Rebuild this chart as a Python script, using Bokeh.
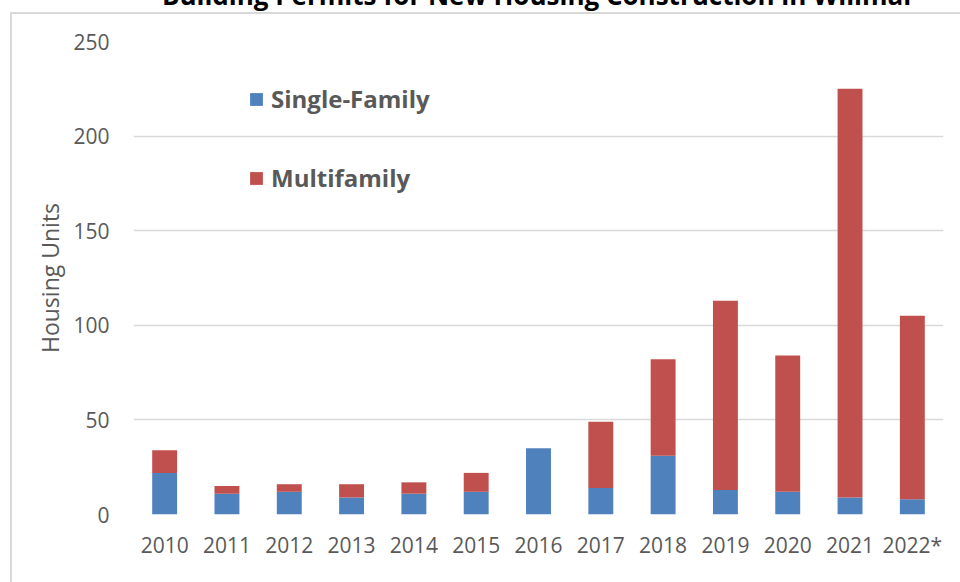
from bokeh.plotting import figure
from bokeh.models import ColumnDataSource, FactorRange, Range1d, FixedTicker
from bokeh.embed import file_html
from bokeh.resources import INLINE

try:
    from bokeh.models import GlobalInlineStyleSheet
except ImportError:  # fallback: no global sheet available
    GlobalInlineStyleSheet = None

# ---- data ----
years = ["2010", "2011", "2012", "2013", "2014", "2015", "2016",
         "2017", "2018", "2019", "2020", "2021", "2022*"]
single_family = [22, 11, 12, 9, 11, 12, 35, 14, 31, 13, 12, 9, 8]
multifamily = [12, 4, 4, 7, 6, 10, 0, 35, 51, 100, 72, 216, 97]
series_names = ["Single-Family", "Multifamily"]
y_ticks = [0, 50, 100, 150, 200, 250]
title_text = "Building Permits for New Housing Construction in Willmar"
y_label = "Housing Units"

BLUE = "#4F81BD"
RED = "#C0504D"
GREY = "#595959"
FRAME_GREY = "#d9d9d9"
FONT = "Open Sans"

source = ColumnDataSource(dict(year=years, single=single_family, multi=multifamily))

p = figure(
    width=952, height=637,
    title=title_text,
    x_range=FactorRange(*years, range_padding=0),
    y_range=Range1d(0, 250),
    output_backend="svg", toolbar_location=None,
    min_border_left=125, min_border_right=17,
    min_border_top=96, min_border_bottom=68,
)
# shift the canvas up so the chart title sits partly above the window, as in the reference
p.margin = (-55, 0, 0, 8)
# light grey chart-area border (left and top edges visible in the reference)
p.styles = {
    "background-color": "white",
    "background-image": f"linear-gradient({FRAME_GREY}, {FRAME_GREY}), "
                        f"linear-gradient({FRAME_GREY}, {FRAME_GREY})",
    "background-size": "100% 2px, 2px 100%",
    "background-position": "2px 67px, 2px 67px",
    "background-repeat": "no-repeat",
}
if GlobalInlineStyleSheet is not None:
    # top edge of the chart-area border, drawn above the canvas
    p.stylesheets = [GlobalInlineStyleSheet(css=(
        "body::before { content: ''; position: fixed; left: 10px; right: 0; "
        f"top: 12px; height: 2px; background: {FRAME_GREY}; z-index: 1000; "
        "pointer-events: none; }"
    ))]
p.outline_line_color = None
p.background_fill_color = "white"
p.border_fill_color = None

# title
p.title.align = "center"
p.title.text_font = FONT
p.title.text_font_style = "bold"
p.title.text_font_size = "26px"
p.title.text_color = "black"
p.title.background_fill_color = None
p.title.standoff = 58

p.vbar_stack(["single", "multi"], x="year", width=0.4, color=[BLUE, RED],
             line_color=None, source=source, legend_label=series_names)

# axes
p.yaxis.ticker = FixedTicker(ticks=y_ticks)
p.yaxis.axis_line_color = None
p.yaxis.major_tick_line_color = None
p.yaxis.minor_tick_line_color = None
p.yaxis.major_label_text_color = GREY
p.yaxis.major_label_text_font = FONT
p.yaxis.major_label_text_font_size = "21px"
p.yaxis.major_label_standoff = 18
p.yaxis.axis_label = y_label
p.yaxis.axis_label_text_font = FONT
p.yaxis.axis_label_text_font_style = "normal"
p.yaxis.axis_label_text_font_size = "23px"
p.yaxis.axis_label_text_color = GREY
p.yaxis.axis_label_standoff = 4

p.xaxis.axis_line_color = None
p.xaxis.major_tick_line_color = None
p.xaxis.minor_tick_line_color = None
p.xaxis.major_label_text_color = GREY
p.xaxis.major_label_text_font = FONT
p.xaxis.major_label_text_font_size = "21px"
p.xaxis.major_label_standoff = 10

p.xgrid.grid_line_color = None
p.ygrid.grid_line_color = FRAME_GREY
p.ygrid.grid_line_width = 1.5

# legend
lg = p.legend[0]
lg.location = (115, 320)
lg.background_fill_alpha = 0
lg.border_line_color = None
lg.padding = 0
lg.margin = 0
lg.glyph_width = 16
lg.glyph_height = 16
lg.label_standoff = 7
lg.label_height = 30
lg.spacing = 46
lg.label_text_font = FONT
lg.label_text_font_style = "bold"
lg.label_text_font_size = "24px"
lg.label_text_color = GREY

open("out.html", "w").write(file_html(p, INLINE))
